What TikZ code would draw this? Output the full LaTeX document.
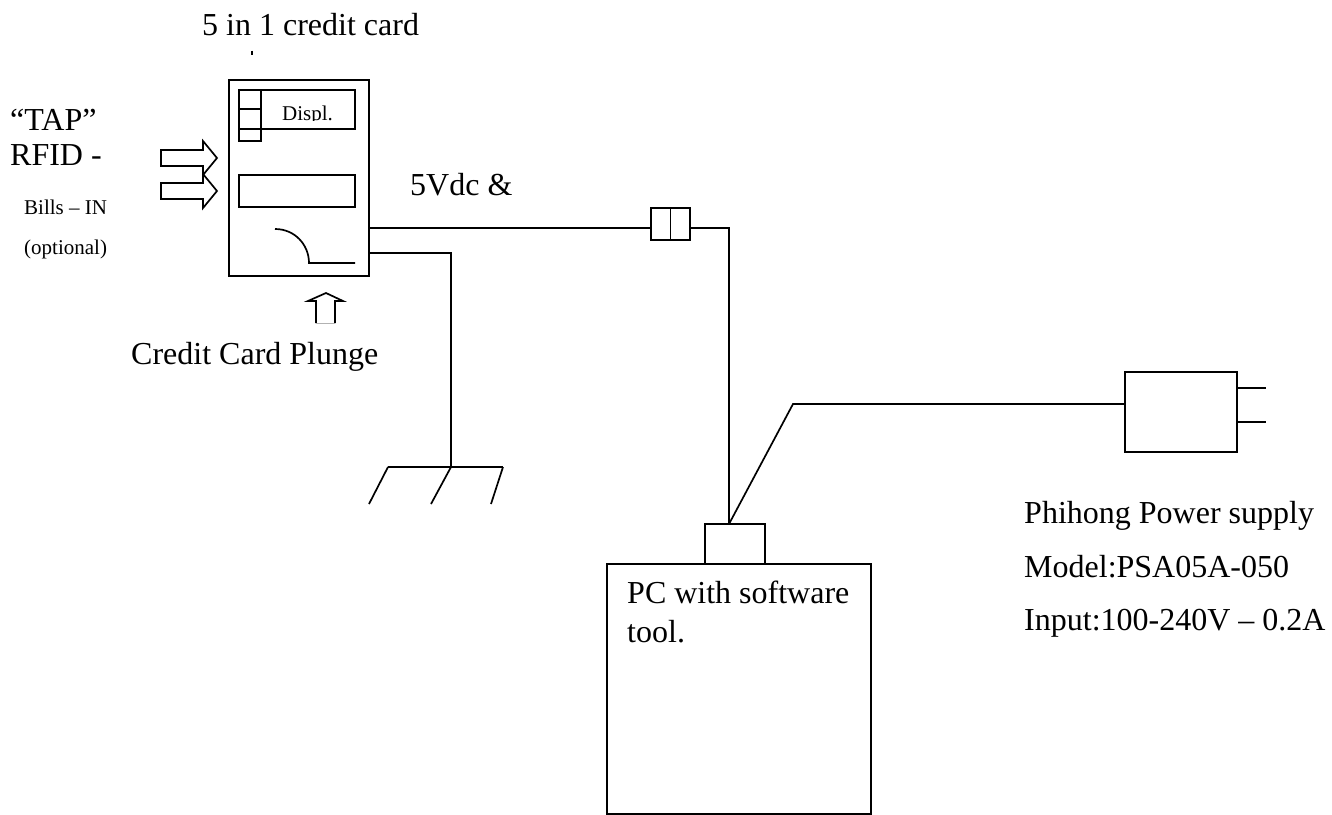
\documentclass[tikz,border=0pt]{standalone}
\usepackage{fontspec}
\setmainfont{Liberation Serif}
\tikzset{
  box/.style={draw, line width=1.7pt, inner sep=0pt, outer sep=0pt},
  wire/.style={line width=1.7pt, line join=miter},
  bigtext/.style={anchor=base west, inner sep=0pt, font=\fontsize{32}{36}\selectfont},
  smalltext/.style={anchor=base west, inner sep=0pt, font=\fontsize{21}{24}\selectfont},
}
\begin{document}
\begin{tikzpicture}[x=1pt,y=-1pt]

\useasboundingbox (0,0) rectangle (1332,814);

 % card terminal
 \node[box, minimum width=140pt, minimum height=196pt] (card) at (299,178) {};
 \node[box, minimum width=116pt, minimum height=39pt] (displ) at (297,109.5) {};
 \node[box, minimum width=22pt, minimum height=51pt] (keys) at (250,115.5) {};
 \draw[wire] (keys.west |- 0,109) -- (keys.east |- 0,109);
 \node[box, minimum width=116pt, minimum height=32pt] (slot) at (297,191) {};
 \draw[wire] (275,229) .. controls (295,229) and (309,245) .. (309,263) -- (355,263);

 % arrows
 \foreach \a/\y in {rfid/158,bills/191}{%
     \draw[wire] (161,\y-8) -- (203,\y-8) -- (203,\y-17) -- (217,\y) -- (203,\y+17) -- (203,\y+8) -- (161,\y+8) -- cycle;
     \coordinate (\a) at (217,\y);
 }
 \draw[wire] (316,323) -- (316,301) -- (308,301) -- (326,293) -- (343,301) -- (335,301) -- (335,323);
 \draw[line width=1pt, gray!60] (316,323) -- (335,323);

 % connector and wires
 \node[box, minimum width=39pt, minimum height=32pt] (conn) at (670.5,224) {};
 \draw[wire] (conn.north) -- (conn.south);
 \node[box, minimum width=60pt, minimum height=40pt] (tab) at (735,544) {};
 \node[box, minimum width=264pt, minimum height=250pt] (pc) at (739,689) {};
 \node[box, minimum width=112pt, minimum height=80pt] (psu) at (1181,412) {};

 \coordinate (cardA) at (card.east |- 0,228);
 \coordinate (cardB) at (card.east |- 0,253);
 \coordinate (tabin) at (729,524);
 \coordinate (bend) at (793,404);
 \coordinate (gndtop) at (451,467);
 \draw[wire] (cardA) -- (conn.west |- cardA);
 \draw[wire] (conn.east |- cardA) -- (tabin |- cardA) -- (tabin);
 \draw[wire] (tabin) -- (bend) -- (psu.west |- bend);
 \draw[wire] (cardB) -- (gndtop |- cardB) -- (gndtop);

 % plug
 \coordinate (pinA) at (1266,388);
 \coordinate (pinB) at (1266,422);
 \draw[wire] (psu.east |- pinA) -- (pinA);
 \draw[wire] (psu.east |- pinB) -- (pinB);

 % ground
 \coordinate (gndL) at (388,467);
 \coordinate (gndR) at (503,467);
 \draw[wire] (gndL) -- (gndR);
 \draw[wire] (gndL) -- (369,504);
 \draw[wire] (gndtop) -- (431,504);
 \draw[wire] (gndR) -- (491,504);
 \draw[line width=2pt] (252,50.5) -- (252,55);

 % labels
 \node[bigtext] (title) at (202,35) {5 in 1 credit card};
 \node[bigtext] (tap) at (10,130) {``TAP''};
 \begin{scope}
   \clip (0,135) rectangle (150,164);
   \node[bigtext] (rfid) at (10,165) {RFID -};
 \end{scope}
 \begin{scope}
   \clip (263,100) rectangle (354,120);
   \node[smalltext] (dtext) at (282,120.5) {Displ.};
 \end{scope}
 \node[smalltext] (billsin) at (24,214) {Bills -- IN};
 \node[smalltext] (opt) at (24,254) {(optional)};
 \node[bigtext] (volt) at (410,195) {5Vdc \&};
 \node[bigtext] (plunge) at (131,364) {Credit Card Plunge};
 \node[bigtext] (pctext) at (627,603) {PC with software};
 \node[bigtext] (pctool) at (627,642) {tool.};
 \node[bigtext] (phi) at (1024,523) {Phihong Power supply};
 \node[bigtext] (model) at (1024,577) {Model:PSA05A-050};
 \node[bigtext] (input) at (1024,630) {Input:100-240V -- 0.2A};

\end{tikzpicture}
\end{document}
